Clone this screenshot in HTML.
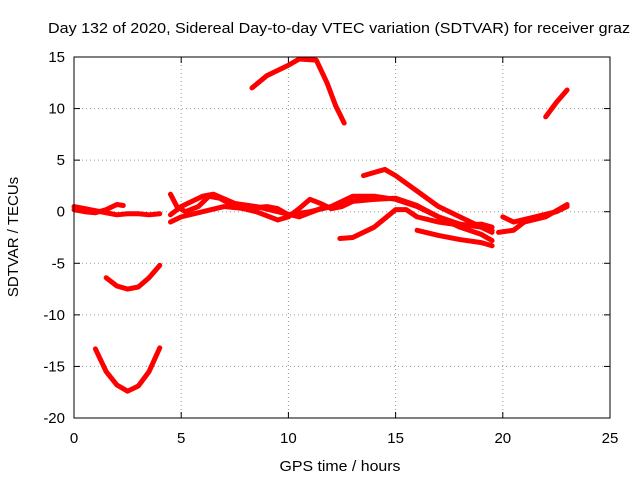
<!DOCTYPE html>
<html><head><meta charset="utf-8"><style>
body{margin:0;background:#fff}
svg{display:block;font-family:"Liberation Sans",sans-serif}
</style></head><body>
<svg id="chart" width="640" height="480">
<text x="339" y="33" font-size="15" text-anchor="middle" textLength="582" lengthAdjust="spacingAndGlyphs">Day 132 of 2020, Sidereal Day-to-day VTEC variation (SDTVAR) for receiver graz</text>
<text x="340" y="471" font-size="15" text-anchor="middle" textLength="121" lengthAdjust="spacingAndGlyphs">GPS time / hours</text>
<text transform="translate(18,237) rotate(-90)" font-size="15" text-anchor="middle">SDTVAR / TECUs</text>
<g id="grid"></g><g id="ticks"></g><g id="series"></g>
<rect x="74" y="57" width="536" height="361" fill="none" stroke="#000"/>
</svg>
<script>
const xTicks=[0,5,10,15,20,25];
const yTicks=[15,10,5,0,-5,-10,-15,-20];
const trackA=[[0,0.5],[0.5,0.3],[1,0.1],[1.5,-0.1],[2,-0.3],[2.5,-0.2],[3,-0.2],[3.5,-0.3],[4,-0.2]];
const trackB=[[0,0.2],[0.5,0.0],[1,-0.1],[1.5,0.2],[2,0.7],[2.3,0.6]];
const trackC=[[1.5,-6.4],[2,-7.2],[2.5,-7.5],[3,-7.3],[3.5,-6.4],[4,-5.2]];
const trackD=[[1,-13.3],[1.5,-15.5],[2,-16.8],[2.5,-17.4],[3,-16.9],[3.5,-15.5],[4,-13.2]];
const trackE=[[8.3,12],[9,13.2],[10,14.2],[10.5,14.8],[11.3,14.7],[11.8,12.5],[12.2,10.3],[12.6,8.6]];
const trackF=[[22,9.2],[22.5,10.6],[23,11.8]];
const trackG=[[4.5,1.7],[4.8,0.5],[5.2,0],[5.8,0.5],[6.3,1.5],[6.8,1.3],[7.5,0.5],[8.5,0],[9.5,-0.8],[10,-0.5],[10.5,0.3],[11,1.2],[11.5,0.8],[12,0.3],[12.5,0.5],[13,1],[14,1.2],[15,1.3],[16,0.6],[17,-0.5],[18,-1.2],[19,-1.5],[19.5,-1.8]];
const trackH=[[4.5,-1],[5,-0.5],[6,0],[7,0.5],[8,0.3],[9,0.5],[9.5,0.3],[10,-0.3],[11,0],[12,0.5],[12.5,1],[13,1.5],[14,1.5],[15,1.2],[16,0.5],[17,-0.5],[18,-1.5],[19,-2.2],[19.5,-2.8]];
const trackI=[[4.5,-0.3],[5,0.5],[6,1.5],[6.5,1.7],[7.5,0.8],[8.5,0.5],[9.5,0],[10.5,-0.5],[11.5,0.3],[12,0.5]];
const trackJ=[[12.4,-2.6],[13,-2.5],[14,-1.5],[15,0.2],[15.5,0.2],[16,-0.5],[17,-1],[18,-1.3],[19,-1.2],[19.5,-1.5]];
const trackK=[[13.5,3.5],[14,3.8],[14.5,4.1],[15,3.5],[16,2],[17,0.5],[18,-0.5],[19,-1.5],[19.5,-2]];
const trackL=[[16,-1.8],[17,-2.3],[18,-2.7],[19,-3],[19.5,-3.3]];
const trackM=[[19.8,-2],[20.5,-1.8],[21,-1],[22,-0.5],[23,0.7]];
const trackN=[[20,-0.5],[20.5,-1],[21.5,-0.5],[22.5,0],[23,0.5]];
const tracks=[trackA,trackB,trackC,trackD,trackE,trackF,trackG,trackH,trackI,trackJ,trackK,trackL,trackM,trackN];
const X0=74,X1=610,Y0=57,Y1=418;
const sx=t=>X0+(t-0)/(25-0)*(X1-X0);
const sy=v=>Y1-(v+20)/(35)*(Y1-Y0);
const NS="http://www.w3.org/2000/svg";
function mk(tag,attrs,parent){const e=document.createElementNS(NS,tag);for(const k in attrs)e.setAttribute(k,attrs[k]);parent.appendChild(e);return e;}
const grid=document.getElementById('grid'),ticks=document.getElementById('ticks'),ser=document.getElementById('series');
xTicks.forEach(t=>{
  const x=sx(t);
  if(t>0&&t<25){const g=mk('line',{x1:x,x2:x,y1:Y0,y2:Y1,stroke:'#999','stroke-dasharray':'1,3'},grid);
  
  }
  const l=mk('text',{x:x,y:Y1+25,'font-size':15,'text-anchor':'middle'},ticks);l.textContent=t;
  
  
  mk('line',{x1:x,x2:x,y1:Y1,y2:Y1-6,stroke:'#000'},ticks);
  mk('line',{x1:x,x2:x,y1:Y0,y2:Y0+6,stroke:'#000'},ticks);
});
yTicks.forEach(v=>{
  const y=sy(v);
  if(v>-20&&v<15){const g=mk('line',{x1:X0,x2:X1,y1:y,y2:y,stroke:'#999','stroke-dasharray':'1,3'},grid);
  
  }
  const l=mk('text',{x:X0-9,y:y+5,'font-size':15,'text-anchor':'end'},ticks);l.textContent=v;
  
  
  mk('line',{x1:X0,x2:X0+6,y1:y,y2:y,stroke:'#000'},ticks);
  mk('line',{x1:X1,x2:X1-6,y1:y,y2:y,stroke:'#000'},ticks);
});
tracks.forEach(tr=>{
  const p=mk('polyline',{points:tr.map(d=>sx(d[0])+','+sy(d[1])).join(' '),fill:'none',stroke:'#f00','stroke-width':5,'stroke-linejoin':'round','stroke-linecap':'round'},ser);
  
  
});
</script>
</body></html>
